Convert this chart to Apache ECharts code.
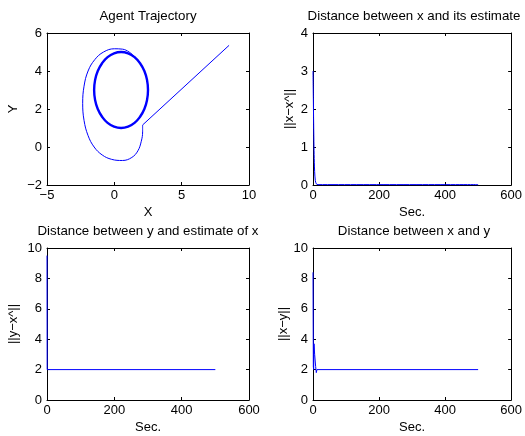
<!DOCTYPE html>
<html>
<head>
<meta charset="utf-8">
<script src="https://cdn.jsdelivr.net/npm/echarts@6/dist/echarts.min.js"></script>
<style>
html,body{margin:0;padding:0;background:#fff;}
#c{width:525px;height:436px;}
</style>
</head>
<body>
<div id="c"></div>
<script>
// ---- Data ----
const titles = ["Agent Trajectory", "Distance between x and its estimate", "Distance between y and estimate of x", "Distance between x and y"];
const xNames = ["X", "Sec.", "Sec.", "Sec."];
const yNames = ["Y", "||x\u2212x^||", "||y\u2212x^||", "||x\u2212y||"];

// Agent trajectory: straight approach segment
const trajApproach = [[8.52, 5.35], [2.1, 1.16]];
// Agent trajectory: transient loop
const trajTransient = [[2.1, 1.16], [2.1, 0.8], [2.0, 0.3], [1.75, -0.2], [1.3, -0.55], [0.6, -0.71], [-0.2, -0.65],
  [-0.9, -0.42], [-1.5, 0.0], [-1.95, 0.6], [-2.25, 1.4], [-2.35, 2.3], [-2.25, 3.2], [-1.95, 4.0],
  [-1.45, 4.6], [-0.8, 5.0], [0.0, 5.17], [0.6, 5.15], [1.1, 5.0], [1.5, 4.75]];
// Agent trajectory: limit cycle (circle around (0.5, 3))
const trajCycle = [[1.5, 4.73], [1.91, 4.41], [2.23, 4.0], [2.43, 3.52], [2.5, 3.0], [2.43, 2.48], [2.23, 2.0],
  [1.91, 1.59], [1.5, 1.27], [1.02, 1.07], [0.5, 1.0], [-0.02, 1.07], [-0.5, 1.27], [-0.91, 1.59], [-1.23, 2.0],
  [-1.43, 2.48], [-1.5, 3.0], [-1.43, 3.52], [-1.23, 4.0], [-0.91, 4.41], [-0.5, 4.73], [-0.02, 4.93], [0.5, 5.0],
  [1.02, 4.93], [1.5, 4.73], [1.91, 4.41], [2.23, 4.0]];

// ||x - x^|| over time
const errXXhat = [[0, 3.0], [1, 2.3], [2, 1.6], [3, 1.0], [4, 0.6], [5, 0.35], [7, 0.12], [10, 0.03], [15, 0.01], [500, 0.01]];
// ||y - x^|| over time
const errYXhat = [[0, 9.5], [0.5, 2.0], [500, 2.0]];
// ||x - y|| over time
const errXY = [[0, 8.4], [1, 2.2], [2, 2.0], [3, 3.7], [5, 3.0], [8, 2.2], [10, 1.8], [12, 2.0], [500, 2.0]];

// axis ranges / ticks
const xRanges = [[-5, 10, 5], [0, 600, 200], [0, 600, 200], [0, 600, 200]];
const yRanges = [[-2, 6, 2], [0, 4, 1], [0, 10, 2], [0, 10, 2]];

// ---- Layout ----
const grids = [
  {left: 47, top: 33, width: 202, height: 152},
  {left: 313, top: 33, width: 202, height: 152},
  {left: 47, top: 248, width: 202, height: 152},
  {left: 313, top: 248, width: 202, height: 152}
];
const yNameGaps = [27, 17, 27, 23];
const FONT = "'Liberation Sans', Arial, sans-serif";
const fmt = v => String(v).replace('-', '\u2212');

const xAxes = [], yAxes = [], titleArr = [];
grids.forEach((g, i) => {
  const common = {
    type: 'value', gridIndex: i, splitLine: {show: false},
    axisLine: {show: true, onZero: false, lineStyle: {color: '#000', width: 1}},
    axisTick: {show: true, inside: true, length: 3, lineStyle: {color: '#000'}}
  };
  xAxes.push(Object.assign({}, common, {
    position: 'bottom', min: xRanges[i][0], max: xRanges[i][1], interval: xRanges[i][2],
    name: xNames[i], nameLocation: 'middle', nameGap: 21,
    nameTextStyle: {fontFamily: FONT, fontSize: 13, color: '#000'},
    axisLabel: {fontFamily: FONT, fontSize: 13, color: '#000', margin: 4, formatter: fmt}
  }));
  xAxes.push(Object.assign({}, common, {
    position: 'top', min: xRanges[i][0], max: xRanges[i][1], interval: xRanges[i][2],
    axisLabel: {show: false}
  }));
  yAxes.push(Object.assign({}, common, {
    position: 'left', min: yRanges[i][0], max: yRanges[i][1], interval: yRanges[i][2],
    name: yNames[i], nameLocation: 'middle', nameGap: yNameGaps[i], nameRotate: 90,
    nameTextStyle: {fontFamily: FONT, fontSize: 13, color: '#000'},
    axisLabel: {fontFamily: FONT, fontSize: 13, color: '#000', margin: 5, formatter: fmt}
  }));
  yAxes.push(Object.assign({}, common, {
    position: 'right', min: yRanges[i][0], max: yRanges[i][1], interval: yRanges[i][2],
    axisLabel: {show: false}
  }));
  titleArr.push({
    text: titles[i], left: g.left + g.width / 2, top: g.top - 23, textAlign: 'center', padding: 0,
    textStyle: {fontFamily: FONT, fontSize: 13.3, fontWeight: 'normal', color: '#000'}
  });
});

const BLUE = '#0000ff';
function ser(data, gi, opts) {
  return Object.assign({
    type: 'line', data: data, xAxisIndex: gi * 2, yAxisIndex: gi * 2,
    symbol: 'none', lineStyle: {color: BLUE, width: 1}, itemStyle: {color: BLUE}, clip: false
  }, opts || {});
}

const option = {
  animation: false,
  backgroundColor: '#fff',
  title: titleArr,
  grid: grids,
  xAxis: xAxes,
  yAxis: yAxes,
  series: [
    ser(trajApproach, 0),
    ser(trajTransient, 0, {smooth: 0.4}),
    ser(trajCycle, 0, {smooth: 0.5, lineStyle: {color: BLUE, width: 2.4}}),
    ser(errXXhat, 1, {smooth: 0.3}),
    ser(errYXhat, 2),
    ser(errXY, 3)
  ]
};
const chart = echarts.init(document.getElementById('c'), null, {renderer: 'canvas'});
chart.setOption(option);
</script>
</body>
</html>
